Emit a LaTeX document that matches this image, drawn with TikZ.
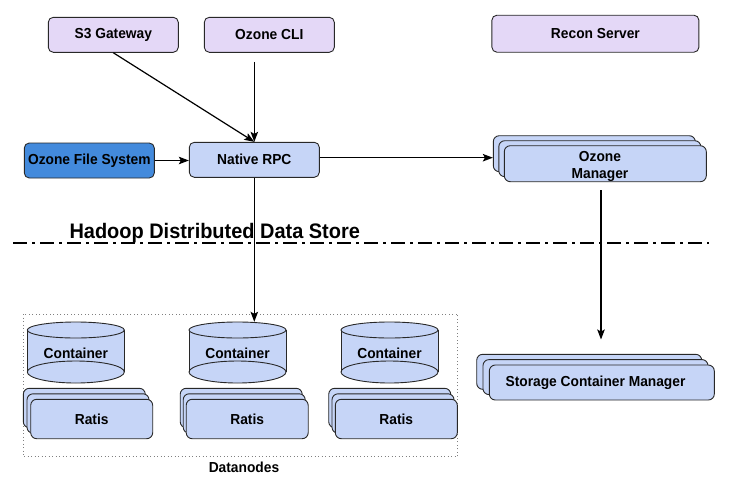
\documentclass[tikz,border=0pt]{standalone}
\usepackage{fontspec}
\setmainfont{Liberation Sans}[FakeStretch=0.95]
\usetikzlibrary{arrows.meta,calc}
\definecolor{lav}{RGB}{228,216,247}
\definecolor{lblue}{RGB}{198,213,247}
\definecolor{dblue}{RGB}{67,138,220}
\definecolor{linec}{RGB}{40,40,40}
\tikzset{
  lbl/.style={font=\fontsize{14.5}{16.5}\selectfont\bfseries, text=black},
  box/.style={draw=linec, line width=0.9pt, rounded corners=5pt, inner sep=0pt,
    minimum width=130pt, minimum height=35pt, lbl},
  sbox/.style={draw=linec, line width=0.9pt, rounded corners=6pt, inner sep=0pt, fill=lblue},
  conn/.style={line width=1.2pt, draw=black, -{Stealth[length=10pt,width=7.5pt,inset=2pt]}},
  cylc/.style={draw=linec, line width=0.9pt, fill=lblue},
}
\begin{document}
\begin{tikzpicture}[x=1pt,y=-1pt]
\useasboundingbox (0,0) rectangle (749,477);

% top row
\node[box, fill=lav] (s3) at (113.3,34.8) {S3 Gateway};
\node[box, fill=lav] (cli) at (269.3,34.8) {Ozone CLI};
\node[box, fill=lav, minimum width=207pt, minimum height=37pt] (recon) at (595.4,33.7) {Recon Server};

% middle row
\node[box, fill=dblue] (ofs) at (89.3,160.5) {Ozone File System};
\node[box, fill=lblue] (rpc) at (254.3,159.8) {Native RPC};

% Ozone Manager stack
\node[sbox, minimum width=202pt, minimum height=36pt] (om1) at (594.3,153.7) {};
\node[sbox, minimum width=202pt, minimum height=36pt] (om2) at (599.8,158.7) {};
\node[sbox, minimum width=202pt, minimum height=36pt] (om3) at (605.3,163.7) {};
\node[lbl, align=center] (omt) at (600,166.5) {Ozone\\Manager};

% Storage Container Manager stack
\node[sbox, minimum width=225pt, minimum height=35pt] (scm1) at (589.2,371.8) {};
\node[sbox, minimum width=225pt, minimum height=35pt] (scm2) at (595.5,377.1) {};
\node[sbox, minimum width=225pt, minimum height=35pt] (scm3) at (601.8,382.5) {};
\node[lbl] (scmt) at (595.5,382.5) {Storage Container Manager};

% divider
\draw[line width=2pt, dash pattern=on 14pt off 5pt on 3pt off 5pt] (13,243) coordinate (dl) -- (709,243) coordinate (dr);
\node[anchor=base west, font=\fontsize{21}{24}\selectfont\bfseries] (hdds) at (66,238.5) {Hadoop Distributed Data Store};

% datanodes box
\draw[gray, line width=0.8pt, dash pattern=on 1pt off 2.5pt] (23.3,314) rectangle (457.7,456.7);
\node[lbl] (dn) at (244,467) {Datanodes};

% containers
\foreach \n/\cx in {c1/75.8, c2/237.5, c3/389.5}{
  \fill[lblue] (\cx-48.5,330) -- (\cx-48.5,372) arc[start angle=180,end angle=360,x radius=48.5,y radius=-11] -- (\cx+48.5,330) -- cycle;
  \draw[linec, line width=0.9pt] (\cx,372) ellipse[x radius=48.5, y radius=11];
  \draw[linec, line width=0.9pt] (\cx-48.5,330) -- (\cx-48.5,372) (\cx+48.5,330) -- (\cx+48.5,372);
  \draw[cylc] (\cx,330) ellipse[x radius=48.5, y radius=8];
  \node[minimum width=97pt, minimum height=61pt, inner sep=0pt] (\n) at (\cx,352.5) {};
  \node[lbl] at (\cx,353.5) {Container};
}

% Ratis stacks
\foreach \n/\fx/\dx in {r1/91.7/3.7, r2/247.2/3.0, r3/396.3/3.3}{
  \node[sbox, minimum width=122pt, minimum height=39.4pt] (\n a) at (\fx-2*\dx,408) {};
  \node[sbox, minimum width=122pt, minimum height=39.4pt] (\n b) at (\fx-\dx,413.5) {};
  \node[sbox, minimum width=122pt, minimum height=39.4pt] (\n c) at (\fx,419) {};
  \node[lbl] at (\fx,419) {Ratis};
}

% connectors
\draw[conn] (s3.south) -- (rpc.north);
\draw[conn] ([yshift=-9pt]cli.south -| rpc.north) -- (rpc.north);
\draw[conn] (ofs.east) -- (ofs.east -| rpc.west);
\draw[conn] (rpc.east |- 0,157.7) -- (om1.west |- 0,157.7);
\draw[conn] (rpc.south) -- (rpc.south |- c2.north);
\coordinate (omout) at (601,190);
\coordinate (scmin) at (601,339.5);
\draw[conn] (omout) -- (scmin);
\end{tikzpicture}
\end{document}
